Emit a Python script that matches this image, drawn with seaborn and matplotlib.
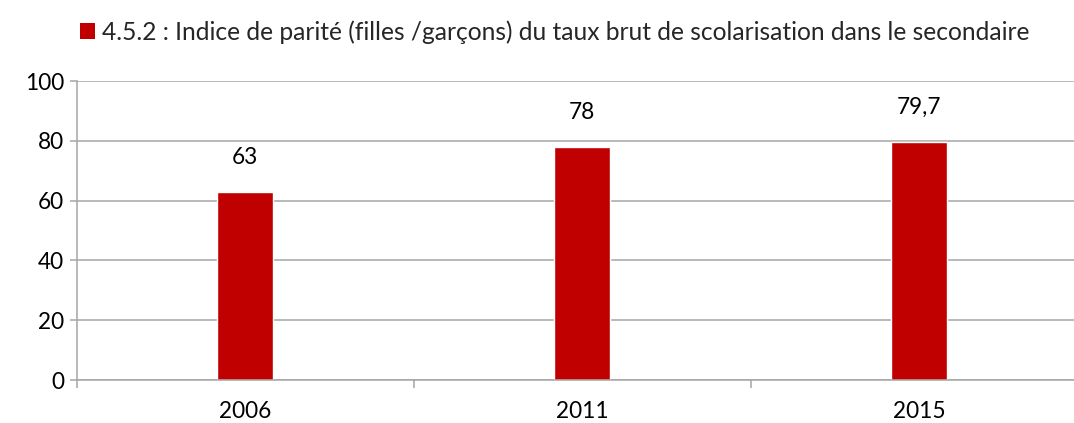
import matplotlib
matplotlib.use("Agg")
import matplotlib.pyplot as plt
import seaborn as sns
import pandas as pd
from matplotlib.patches import Patch
from matplotlib.ticker import FixedLocator

years = ["2006", "2011", "2015"]
values = [63, 78, 79.7]
value_labels = ["63", "78", "79,7"]
series_name = "4.5.2 : Indice de parité (filles /garçons) du taux brut de scolarisation dans le secondaire"

sns.set_theme(style="white")
plt.rcParams["font.family"] = ["Lato", "DejaVu Sans"]

df = pd.DataFrame({"annee": years, "valeur": values})

W, H = 1074, 423
fig = plt.figure(figsize=(W / 100, H / 100), dpi=100)
ax = fig.add_axes([76.5 / W, 1 - 380 / H, 1011 / W, 299 / H])

bar_color = "#C00000"
sns.barplot(data=df, x="annee", y="valeur", color=bar_color, width=0.166,
            saturation=1, ax=ax)

ax.set_xlim(-0.5, 2.5)
ax.set_ylim(0, 100)
ax.set_yticks([0, 20, 40, 60, 80, 100])
ax.yaxis.grid(True, color="#A6A6A6", linewidth=1.1)
ax.set_axisbelow(True)
ax.set_xlabel("")
ax.set_ylabel("")

for s in ["top", "right"]:
    ax.spines[s].set_visible(False)
for s in ["left", "bottom"]:
    ax.spines[s].set_color("#A6A6A6")
    ax.spines[s].set_linewidth(1.1)

fs = 16.3
ax.tick_params(axis="y", which="major", left=True, length=5, width=1.1,
               color="#A6A6A6", labelsize=fs, labelcolor="black", pad=4)
ax.tick_params(axis="x", which="major", bottom=False, labelsize=fs,
               labelcolor="black", pad=9)
ax.xaxis.set_minor_locator(FixedLocator([-0.5, 0.5, 1.5, 2.5]))
ax.tick_params(axis="x", which="minor", bottom=True, length=6, width=1.1,
               color="#A6A6A6")

for i, (v, lab) in enumerate(zip(values, value_labels)):
    ax.text(i, v + 11.5, lab, ha="center", va="center", fontsize=fs, color="black")

handle = Patch(facecolor=bar_color, edgecolor="none")
fig.legend([handle], [series_name], loc="center left",
           bbox_to_anchor=(80 / W, 1 - 32 / H), frameon=False, fontsize=17.7,
           handlelength=0.6, handleheight=0.6, handletextpad=0.3,
           borderaxespad=0, borderpad=0)

fig.savefig("out.png", dpi=100, facecolor="white")
